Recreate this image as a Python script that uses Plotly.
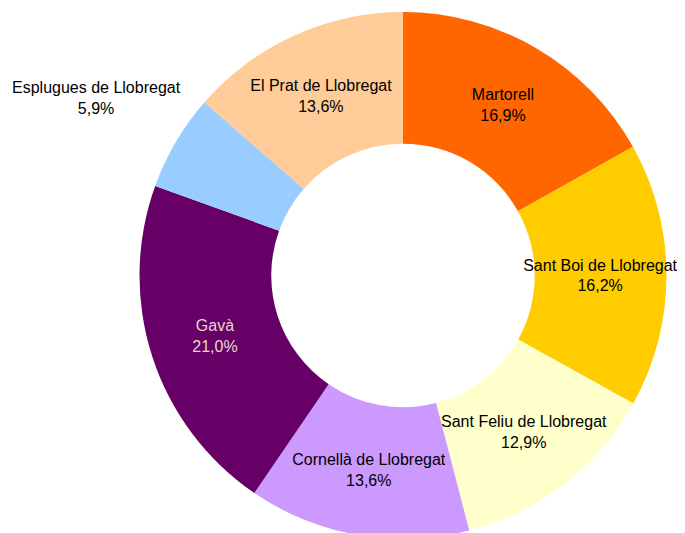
import plotly.graph_objects as go

labels = ["Martorell", "Sant Boi de Llobregat", "Sant Feliu de Llobregat",
          "Cornellà de Llobregat", "Gavà", "Esplugues de Llobregat",
          "El Prat de Llobregat"]
values = [16.9, 16.2, 12.9, 13.6, 21.0, 5.9, 13.6]
colors = ["#FF6600", "#FFCC00", "#FFFFCC", "#CC99FF", "#660066", "#99CCFF", "#FFCC99"]
text_colors = ["#000000", "#000000", "#000000", "#000000", "#E8D8CC", "#000000", "#000000"]

FONT = "Liberation Sans, Arial, sans-serif"
FS = 16

# the small slice (Esplugues) carries its label outside, as a free annotation
outside_idx = 5
templates = ["%{label}<br>%{value:.1f}%"] * len(labels)
templates[outside_idx] = ""

W, H = 685, 545
cx, cy, r = 403, 275.5, 263.5

fig = go.Figure(go.Pie(
    labels=labels,
    values=values,
    sort=False,
    direction="clockwise",
    rotation=0,
    hole=0.5,
    marker=dict(colors=colors, line=dict(width=0)),
    texttemplate=templates,
    textposition="inside",
    insidetextorientation="horizontal",
    textfont=dict(family=FONT, size=FS, color=text_colors),
    domain=dict(x=[(cx - r) / W, (cx + r) / W], y=[(H - cy - r) / H, (H - cy + r) / H]),
    showlegend=False,
    hoverinfo="label+percent",
))

out_text = f"{labels[outside_idx]}<br>{values[outside_idx]:.1f}%".replace(".", ",")
fig.add_annotation(
    text=out_text, x=96 / W, y=(H - 98) / H, xref="paper", yref="paper",
    showarrow=False, xanchor="center", yanchor="middle", align="center",
    font=dict(family=FONT, size=FS, color="#000000"),
)

fig.update_layout(
    width=W, height=H,
    margin=dict(l=0, r=0, t=0, b=0),
    paper_bgcolor="white",
    plot_bgcolor="white",
    separators=",.",
    uniformtext=dict(minsize=FS, mode="show"),
)

fig.write_html(
    "out.html",
    config={"displayModeBar": False},
    post_script="document.body.style.margin='0';document.body.style.overflow='hidden';"
                "document.documentElement.style.overflow='hidden';",
)
